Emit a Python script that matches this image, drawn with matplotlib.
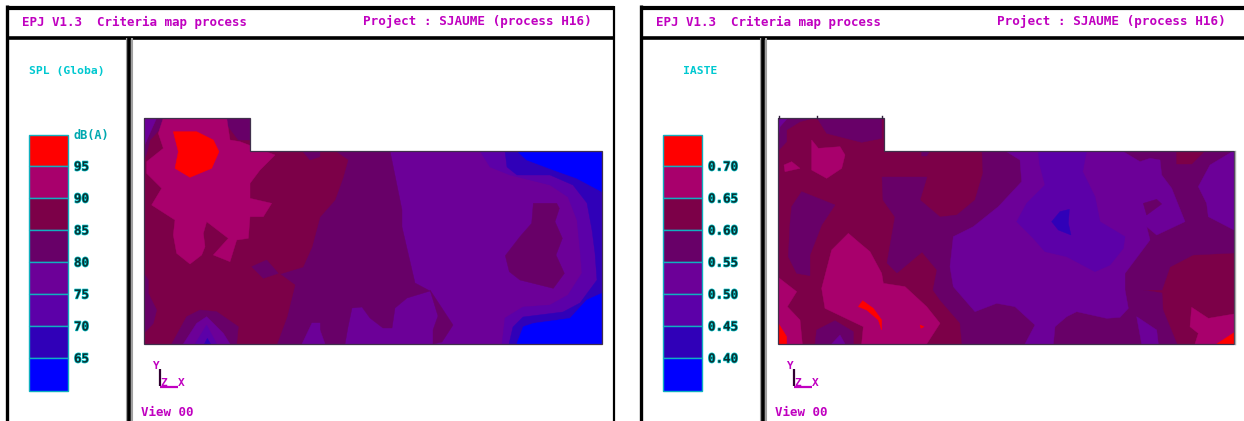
import matplotlib
matplotlib.use("Agg")
import matplotlib.pyplot as plt
import matplotlib.patheffects as pe
from matplotlib.patches import Polygon, Rectangle

# colour classes of the scale, from low to high
colors = ["#0000ff", "#3000b8", "#5c00a8", "#6c0098", "#680068", "#7c0048", "#a8006c", "#ff0000"]
labels_spl = ["95", "90", "85", "80", "75", "70", "65"]
labels_iast = ["0.70", "0.65", "0.60", "0.55", "0.50", "0.45", "0.40"]
scale_edges = [135, 166, 198, 230, 262, 294, 326, 358, 391]

# outlines: (class, crop origin, points in 3x crop pixels)
# origin None means the points are plain pixels
A = (0, 120)      # left map, left half
B = (320, 110)    # left map, right half
C = (640, 110)    # right map, left half
D = (940, 110)    # right map, right half

outline_l = [(144, 118), (250, 118), (250, 151), (602, 151), (602, 344), (144, 344)]
outline_r = [(778, 118), (884, 118), (884, 151), (1234, 151), (1234, 344), (778, 344)]

level4_l = [(144, 118), (250, 118), (250, 151), (390, 151), (402, 210), (402, 227), (415, 283), (430, 291),
            (407, 298), (395, 308), (392, 328), (383, 328), (370, 318), (362, 307), (352, 308), (348, 327),
            (345, 344), (144, 344)]
level4_l2 = [(430, 290), (453, 325), (442, 342), (433, 344), (433, 330), (438, 316)]
level5_l = [(144, 118), (250, 118), (250, 151), (335, 151), (348, 160), (343, 178), (335, 200), (320, 217),
            (312, 247), (303, 267), (280, 274), (295, 285), (287, 317), (277, 344), (144, 344)]
level4_r = [(882, 177), (927, 177), (920, 200), (940, 217), (957, 215), (975, 200), (983, 173), (982, 151),
            (1234, 151), (1234, 253), (1193, 255), (1170, 267), (1162, 290), (1143, 290), (1162, 293),
            (1163, 310), (1177, 344), (962, 344), (960, 323), (940, 300), (933, 290), (937, 270), (922, 252),
            (897, 273), (887, 263), (895, 217), (883, 200)]

regions_l = [
    (2, None, [(480, 151), (490, 167), (510, 175), (550, 185), (568, 197), (577, 220), (580, 250), (582, 273),
               (568, 295), (550, 305), (523, 307), (505, 318), (502, 344), (602, 344), (602, 151)]),
    (1, None, [(505, 151), (507, 167), (517, 175), (550, 175), (573, 185), (587, 203), (592, 230), (595, 253),
               (597, 280), (580, 303), (563, 312), (523, 317), (513, 327), (509, 344), (602, 344), (602, 151)]),
    (0, B, [(590, 122), (620, 150), (700, 180), (770, 205), (845, 245), (845, 122)]),
    (0, B, [(845, 550), (800, 570), (750, 625), (640, 640), (610, 650), (590, 702), (845, 702)]),
    (4, B, [(640, 280), (710, 280), (718, 295), (705, 335), (727, 385), (708, 435), (733, 490), (700, 535),
            (600, 510), (568, 485), (556, 437), (600, 380), (635, 340)]),
    (4, None, level4_l),
    (4, None, level4_l2),
    (3, None, [(302, 344), (312, 323), (320, 323), (320, 330), (325, 344)]),
    (5, None, level5_l),
    (4, A, [(432, -6), (510, -6), (450, 60), (440, 100), (432, 120)]),
    (3, A, [(432, -6), (470, -6), (445, 50), (432, 80)]),
    (4, A, [(665, -6), (750, -6), (750, 60), (715, 60), (685, 20)]),
    (4, A, [(905, 90), (960, 90), (960, 110), (930, 120)]),
    (4, A, [(432, 460), (445, 480), (445, 520), (470, 570), (460, 610), (432, 640)]),
    (6, A, [(490, -6), (680, -6), (690, 60), (720, 65), (825, 105), (780, 150), (750, 190), (750, 235),
            (815, 250), (790, 290), (750, 290), (745, 355), (710, 360), (690, 425), (640, 405), (685, 355),
            (620, 305), (610, 340), (615, 380), (605, 405), (570, 432), (530, 400), (520, 345), (525, 300),
            (455, 255), (485, 205), (440, 160), (440, 125), (490, 85), (475, 40)]),
    (7, A, [(520, 35), (590, 35), (640, 60), (657, 95), (635, 145), (570, 172), (525, 145), (535, 95)]),
    (4, A, [(755, 440), (800, 420), (835, 460), (790, 475)]),
    (4, A, [(515, 672), (560, 590), (600, 570), (650, 575), (715, 620), (710, 672)]),
    (3, A, [(550, 672), (590, 610), (620, 590), (670, 640), (690, 672)]),
    (2, A, [(585, 672), (620, 615), (650, 672)]),
    (1, A, [(613, 672), (622, 655), (632, 672)]),
]

regions_r = [
    (4, None, level4_r),
    (5, D, [(710, 122), (795, 122), (755, 162), (710, 162)]),
    (3, D, [(195, 122), (240, 150), (245, 215), (175, 290), (100, 350), (40, 380), (30, 470), (40, 530), (105, 605),
            (170, 580), (225, 590), (285, 645), (255, 702), (340, 702), (345, 650), (380, 620), (410, 605),
            (500, 625), (540, 622), (565, 595), (555, 540), (555, 490), (630, 390), (620, 350), (650, 375),
            (735, 335), (695, 235), (665, 195), (660, 150), (630, 145), (600, 155), (545, 122)]),
    (4, D, [(610, 280), (650, 268), (665, 282), (620, 315)]),
    (3, D, [(882, 122), (810, 165), (775, 230), (800, 280), (805, 320), (882, 360)]),
    (3, D, [(590, 620), (650, 660), (655, 702), (605, 702)]),
    (2, D, [(295, 122), (440, 122), (428, 185), (465, 260), (480, 335), (555, 380), (550, 415), (510, 465),
            (465, 485), (380, 440), (315, 425), (280, 385), (230, 335), (260, 280), (315, 225), (298, 160)]),
    (1, D, [(335, 335), (360, 305), (388, 298), (385, 340), (393, 375), (355, 360)]),
    (6, D, [(755, 592), (805, 625), (882, 612), (882, 670), (830, 702), (765, 702), (775, 670), (750, 650)]),
    (7, D, [(830, 702), (882, 668), (882, 702)]),
    (4, C, [(530, 22), (725, 22), (725, 85), (665, 97), (560, 70)]),
    (4, C, [(412, 22), (530, 22), (480, 35), (440, 60), (440, 95), (412, 125)]),
    (3, C, [(412, 22), (445, 22), (420, 50), (412, 100)]),
    (6, C, [(515, 90), (535, 115), (600, 110), (615, 135), (605, 175), (560, 205), (515, 180)]),
    (6, C, [(432, 165), (455, 155), (480, 175), (435, 185)]),
    (4, C, [(485, 245), (585, 285), (545, 345), (510, 435), (510, 497), (470, 490), (445, 440), (450, 340), (455, 290)]),
    (6, C, [(625, 370), (660, 400), (690, 425), (725, 490), (730, 520), (795, 530), (860, 590), (900, 640),
            (860, 702), (665, 702), (670, 650), (555, 595), (545, 535), (575, 420)]),
    (7, C, [(668, 572), (700, 595), (725, 630), (725, 660), (715, 630), (680, 600), (655, 590)]),
    (7, C, [(840, 645), (852, 650), (843, 655)]),
    (6, C, [(412, 500), (470, 545), (442, 590), (480, 630), (487, 702), (412, 702)]),
    (7, C, [(412, 635), (440, 680), (440, 702), (412, 702)]),
    (4, C, [(525, 702), (530, 660), (585, 632), (640, 665), (640, 702)]),
    (3, C, [(575, 702), (600, 675), (615, 702)]),
    (4, C, [(845, 122), (870, 122), (860, 138), (845, 138)]),
]

MAGENTA = "#c000c0"
CYAN = "#00c8d0"

plt.rcParams["font.family"] = "DejaVu Sans Mono"
fig = plt.figure(figsize=(12.44, 4.21), dpi=100)
ax = fig.add_axes([0, 0, 1, 1])
ax.set_xlim(0, 1244)
ax.set_ylim(421, 0)
ax.axis("off")


def to_px(origin, pts):
    if origin is None:
        return pts
    return [(origin[0] + x / 3, origin[1] + y / 3) for x, y in pts]


def panel(x0, x1, title, title_x, scale_labels, unit, outline, base, regions):
    # frame
    ax.add_patch(Rectangle((x0 + 2, 8), x1 - x0 - 2, 413, fc="white", ec="none"))
    ax.plot([x0, x0], [5, 421], color="black", lw=2.4, solid_capstyle="butt")
    ax.plot([x0, x1], [7.5, 7.5], color="black", lw=3.0, solid_capstyle="butt")
    ax.plot([x0, x1], [37.5, 37.5], color="black", lw=2.6, solid_capstyle="butt")
    ax.plot([x0 + 119.5, x0 + 119.5], [38, 421], color="#a0a0a0", lw=1.5, solid_capstyle="butt")
    ax.plot([x0 + 125, x0 + 125], [38, 421], color="#a0a0a0", lw=1.5, solid_capstyle="butt")
    ax.plot([x0 + 122.2, x0 + 122.2], [38, 421], color="black", lw=2.6, solid_capstyle="butt")

    ax.text(x0 + 15, 22, "EPJ V1.3  Criteria map process", color=MAGENTA, fontsize=9, weight="bold",
            va="center")
    ax.text(x0 + 356, 22, "Project : SJAUME (process H16)", color=MAGENTA, fontsize=9.1, weight="bold",
            va="center")
    ax.text(title_x, 71, title, color=CYAN, fontsize=8.2, weight="bold", ha="center", va="center")

    # colour scale
    bx = x0 + 22
    for i in range(8):
        ax.add_patch(Rectangle((bx, scale_edges[i]), 39, scale_edges[i + 1] - scale_edges[i],
                               fc=colors[7 - i], ec="#10b0c0", lw=1.0))
    halo = [pe.withStroke(linewidth=1.0, foreground="#00c8d0")]
    if unit:
        ax.text(bx + 45, 135, unit, color="#00a8b0", fontsize=8.6, weight="bold", va="center")
    for lab, y in zip(scale_labels, scale_edges[1:8]):
        ax.text(bx + 45, y + 1, lab, color="#103030", fontsize=9, weight="bold", va="center", path_effects=halo)

    # map
    clip = Polygon(outline, closed=True, transform=ax.transData)
    ax.add_patch(Polygon(outline, closed=True, fc=colors[base], ec="none"))
    for level, origin, pts in regions:
        p = Polygon(to_px(origin, pts), closed=True, fc=colors[level], ec=colors[level], lw=0.3)
        ax.add_patch(p)
        p.set_clip_path(clip)
    ax.add_patch(Polygon(outline, closed=True, fc="none", ec="#40304c", lw=0.9))

    # axis triad
    tx = x0 + 153
    ax.plot([tx, tx], [369, 386], color="#300030", lw=1.6, solid_capstyle="butt")
    ax.plot([tx, tx + 18], [386.5, 386.5], color=MAGENTA, lw=1.6, solid_capstyle="butt")
    ax.text(tx - 4, 366, "Y", color=MAGENTA, fontsize=8, weight="bold", ha="center", va="center")
    ax.text(tx + 21, 383, "X", color=MAGENTA, fontsize=8, weight="bold", ha="center", va="center")
    ax.text(tx + 4, 383, "Z", color=MAGENTA, fontsize=8, weight="bold", ha="center", va="center")
    ax.text(x0 + 134, 412, "View 00", color=MAGENTA, fontsize=9, weight="bold", va="center")


panel(7, 614, "SPL (Globa)", 67, labels_spl, "dB(A)", outline_l, 3, regions_l)
panel(641, 1244, "IASTE", 700, labels_iast, "", outline_r, 5, regions_r)

# right edge line of the left panel and small ticks on top of the right map
ax.plot([614, 614], [6, 421], color="black", lw=1.6, solid_capstyle="butt")
ax.plot([1235, 1235], [151, 344], color="#a8a8a8", lw=1.0)
for tick_x in [779, 817, 882]:
    ax.plot([tick_x, tick_x], [116, 118], color="#30203c", lw=1.0)

fig.savefig("out.png", dpi=100)
